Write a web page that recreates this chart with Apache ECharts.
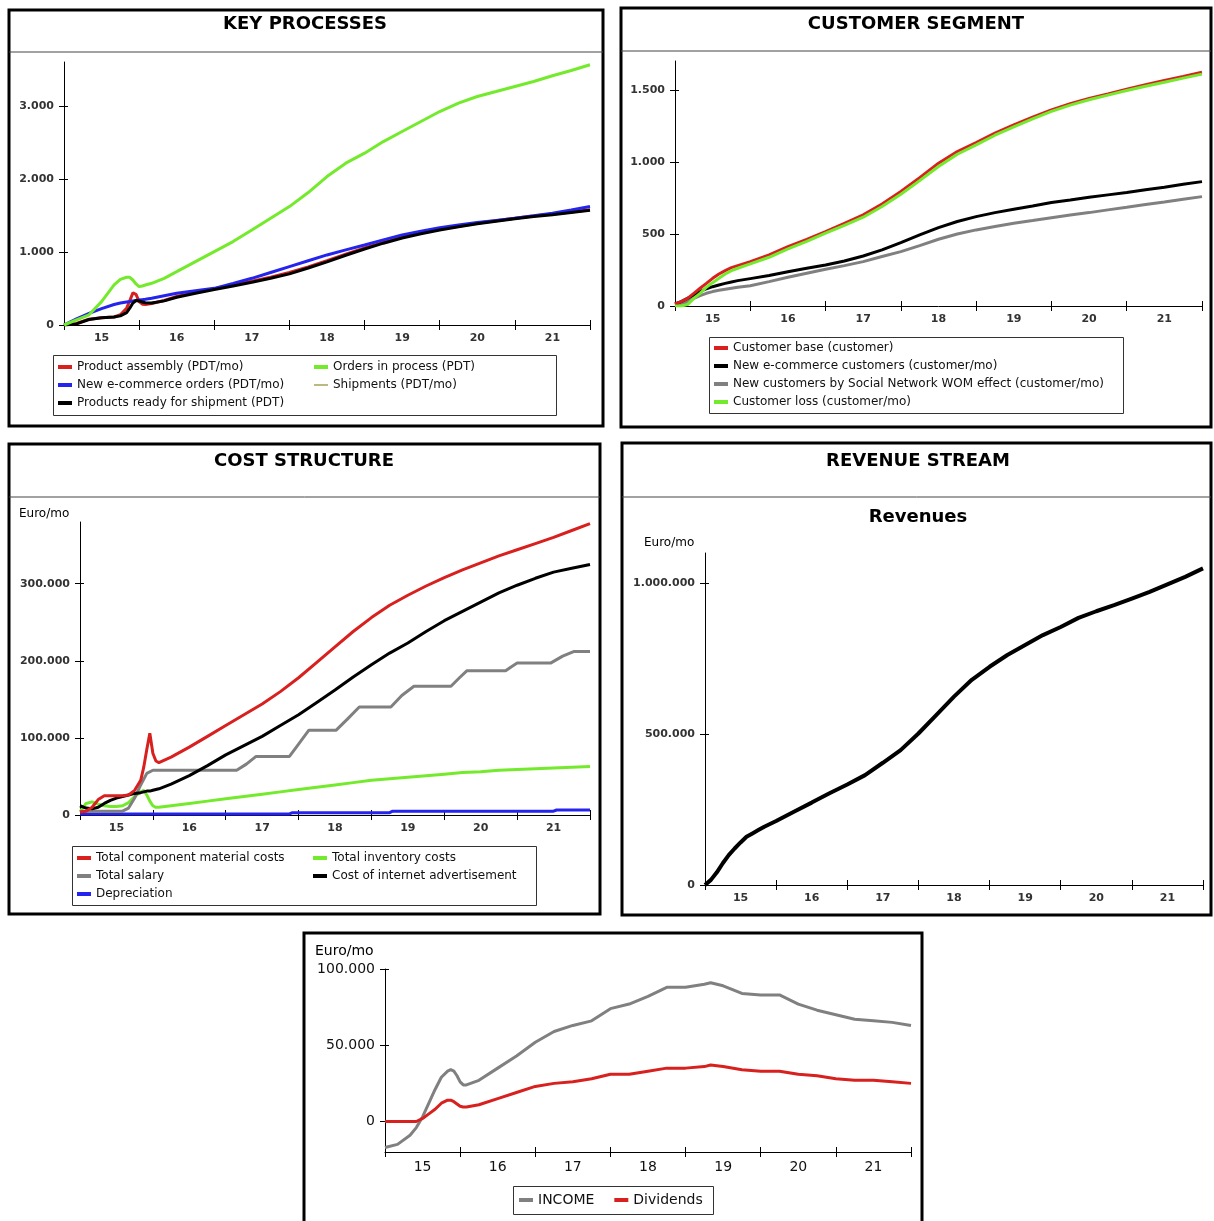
<!DOCTYPE html>
<html><head><meta charset="utf-8">
<script src="https://cdn.jsdelivr.net/npm/echarts@6/dist/echarts.min.js"></script>
<style>html,body{margin:0;padding:0;background:#fff}#c{width:1214px;height:1221px}</style>
</head><body><div id="c"></div>
<script>
// ---------- DATA ----------
const years = ['15','16','17','18','19','20','21'];

// Key processes (months from start of axis)
const kpMonths = [0,2,4,6,8,9,10,10.5,11,11.5,12,12.5,13,14,16,18,21,24,27,30,33,36,39,42,45,48,51,54,57,60,63,66,69,72,75,78,81,84];
const kpAssembly = [0,20,80,100,110,140,230,330,440,420,320,285,280,295,335,390,445,495,548,600,655,718,795,880,970,1055,1130,1200,1258,1310,1352,1392,1428,1462,1492,1518,1548,1578];
const kpNewOrders = [0,85,160,225,280,300,315,322,330,336,342,347,352,365,400,434,468,502,570,639,719,799,879,959,1028,1096,1165,1233,1283,1333,1368,1402,1432,1461,1495,1530,1575,1621];
const kpReady = [0,15,75,100,110,125,170,230,300,335,330,315,305,300,330,380,435,485,535,585,640,700,780,865,955,1040,1120,1190,1250,1300,1345,1385,1420,1455,1485,1510,1540,1570];
const kpOrdersInProcess = [0,70,140,320,548,625,653,653,616,562,525,534,548,571,639,730,868,1005,1142,1301,1461,1621,1813,2032,2215,2352,2511,2648,2785,2922,3037,3128,3196,3265,3333,3411,3484,3562];
const kpShipments = [0,15,75,100,110,125,170,225,295,330,328,314,304,300,330,380,434,484,534,584,639,699,779,864,954,1039,1119,1189,1249,1299,1344,1384,1419,1454,1484,1509,1539,1569];

// Customer segment
const csMonths = [0,1,2,3,4,5,6,7,8,9,10,12,15,18,21,24,27,30,33,36,39,42,45,48,51,54,57,60,63,66,69,72,75,78,81,84];
const csBase = [14,30,53,88,123,157,192,222,245,266,280,308,354,412,463,516,574,632,708,794,891,991,1072,1134,1199,1257,1310,1361,1403,1440,1472,1505,1535,1565,1593,1623];
const csNewEcom = [14,30,53,76,100,120,134,146,157,167,176,190,211,238,262,285,312,347,389,440,493,544,586,620,648,671,694,718,736,755,771,787,806,824,845,863];
const csWom = [4,10,30,53,72,88,100,109,116,123,130,141,169,199,227,255,280,308,343,377,419,463,500,528,551,574,593,613,632,648,667,685,704,722,741,759];
const csLoss = [0,0,10,53,88,130,162,192,222,245,262,292,338,396,449,505,560,616,690,775,870,968,1053,1118,1185,1243,1299,1350,1394,1431,1463,1495,1525,1553,1581,1609];

// Cost structure (thousand Euro/mo)
const costMonths = [0,1,2,3,4,5,6,7,8,9,10,10.5,11,11.5,12,12.5,13,15,18,21,24,27,30,33,36,39,42,45,48,51,54,57,60,63,66,69,72,75,78,81,84];
const costMaterialK = [4,5,10,20,25,25,25,25,26,32,45,62,85,106,80,70,68,75,88,102,116,130,144,160,178,198,218,238,256,272,285,297,308,318,327,336,344,352,360,369,378];
const costInventoryK = [4,15,17,14,12,11,11,12,16,24,30,32,26,18,12,10,10,12,15,18,21,24,27,30,33,36,39,42,45,47,49,51,53,55,56,58,59,60,61,62,63];
const costAdvertK = [12,9,8,10,15,19,22,24,26,28,29,30,31,31,32,33,34,40,51,64,78,90,102,116,130,146,162,179,195,210,223,238,252,264,276,288,298,307,315,320,325];
const salaryMonths = [0,7,8,9,10,11,12,25.8,27.4,29,34.5,36,37.7,42.2,44,46,51.2,53,55,61.1,62.5,63.7,70.1,71,72,77.5,79.5,81.3,84];
const salaryK = [5,5,9,22,39,54,58,58,66,76,76,92,110,110,124,140,140,155,167,167,178,187,187,192,197,197,206,212,212];
const deprMonths = [0,34.5,35,51,51.5,78,78.5,84];
const deprK = [1.3,1.3,3,3,5,5,6.5,6.5];

// Revenue stream (thousand Euro/mo)
const revMonths = [0,1,2,3,4,5,6,7,8,9,10,12,15,18,21,24,27,30,33,36,39,42,45,48,51,54,57,60,63,66,69,72,75,78,81,84];
const revenuesK = [0,17,42,72,99,121,141,160,171,182,193,212,243,273,304,333,364,405,447,502,563,624,680,723,762,795,828,855,885,907,927,949,971,996,1021,1049];

// Income / dividends (thousand Euro/mo)
const incMonths = [0,2,4,5,6,7,8,9,10,10.5,11,11.5,12,12.5,13,15,18,21,24,27,30,33,36,39,42,45,48,51,52,54,57,60,63,66,69,72,75,78,81,84];
const incomeK = [-17,-15,-9,-4,3,12,21,29,33,34,33,30,26,24,24,27,35,43,52,59,63,66,74,77,82,88,88,90,91,89,84,83,83,77,73,70,67,66,65,63];
const dividendsK = [0,0,0,0,2,5,8,12,14,14,13,11.5,10,9.5,9.5,11,15,19,23,25,26,28,31,31,33,35,35,36,37,36,34,33,33,31,30,28,27,27,26,25];

// ---------- CHART ----------
const FONT = '"DejaVu Sans", Verdana, sans-serif';
const RED = '#d8201e', GREEN = '#74ea2c', BLUE = '#2424ee', BLACK = '#000', GRAY = '#808080', OLIVE = '#8a8a30';
const fmt = v => String(Math.round(v)).replace(/\B(?=(\d{3})+(?!\d))/g, '.');

const grids = [
  {left:64, top:62, width:526, height:263},
  {left:675, top:61, width:527, height:245},
  {left:80, top:522, width:510, height:293},
  {left:705, top:553, width:498, height:332},
  {left:385, top:969, width:526, height:183}
];
const yConf = [
  {min:0, max:3600, ticks:[0,1000,2000,3000], fs:11, fw:'bold', col:'#333'},
  {min:0, max:1700, ticks:[0,500,1000,1500], fs:11, fw:'bold', col:'#333'},
  {min:0, max:380000, ticks:[0,100000,200000,300000], fs:11, fw:'bold', col:'#333'},
  {min:0, max:1100000, ticks:[0,500000,1000000], fs:11, fw:'bold', col:'#333'},
  {min:-20000, max:100000, ticks:[0,50000,100000], fs:14, fw:'normal', col:'#111'}
];

const xAxis = [], yAxis = [];
grids.forEach((g, i) => {
  const yc = yConf[i];
  const lab = {color:yc.col, fontSize:yc.fs, fontWeight:yc.fw, fontFamily:FONT};
  xAxis.push({type:'category', gridIndex:i, data:years, position:'bottom', boundaryGap:true,
    axisLine:{onZero:false, lineStyle:{color:'#000', width:1}},
    axisTick:{show:true, inside:false, length:5, lineStyle:{color:'#000'}},
    axisLabel:Object.assign({margin:8}, lab),
    splitLine:{show:false}});
  xAxis.push({type:'category', gridIndex:i, data:years, position:'bottom', boundaryGap:true,
    axisLine:{show:false, onZero:false},
    axisTick:{show:true, inside:true, length:5, lineStyle:{color:'#000'}},
    axisLabel:{show:false}, splitLine:{show:false}});
  xAxis.push({type:'value', gridIndex:i, min:0, max:84, show:false});

  yAxis.push({type:'value', gridIndex:i, min:yc.min, max:yc.max, position:'left',
    axisLine:{show:true, onZero:false, lineStyle:{color:'#000', width:1}},
    axisTick:{show:true, inside:false, length:5, customValues:yc.ticks, lineStyle:{color:'#000'}},
    axisLabel:Object.assign({margin:10, customValues:yc.ticks, formatter:fmt}, lab),
    splitLine:{show:false}});
  yAxis.push({type:'value', gridIndex:i, min:yc.min, max:yc.max, position:'left',
    axisLine:{show:false, onZero:false},
    axisTick:{show:true, inside:true, length:4, customValues:yc.ticks, lineStyle:{color:'#000'}},
    axisLabel:{show:false}, splitLine:{show:false}});
});

function S(name, gi, xs, ys, color, width, scale) {
  scale = scale || 1;
  return {type:'line', name, xAxisIndex:gi*3+2, yAxisIndex:gi*2,
    data: xs.map((x, k) => [x, ys[k]*scale]),
    showSymbol:false, symbol:'none', smooth:false,
    lineStyle:{color, width}, itemStyle:{color}, silent:true, animation:false};
}

const series = [
  S('Shipments (PDT/mo)', 0, kpMonths, kpShipments, OLIVE, 1.2),
  S('Product assembly (PDT/mo)', 0, kpMonths, kpAssembly, RED, 3),
  S('New e-commerce orders (PDT/mo)', 0, kpMonths, kpNewOrders, BLUE, 3),
  S('Products ready for shipment (PDT)', 0, kpMonths, kpReady, BLACK, 3),
  S('Orders in process (PDT)', 0, kpMonths, kpOrdersInProcess, GREEN, 3),

  S('New customers by Social Network WOM effect (customer/mo)', 1, csMonths, csWom, GRAY, 3),
  S('New e-commerce customers (customer/mo)', 1, csMonths, csNewEcom, BLACK, 3),
  S('Customer base (customer)', 1, csMonths, csBase, RED, 3),
  S('Customer loss (customer/mo)', 1, csMonths, csLoss, GREEN, 3),

  S('Depreciation', 2, deprMonths, deprK, BLUE, 3, 1000),
  S('Total inventory costs', 2, costMonths, costInventoryK, GREEN, 3, 1000),
  S('Total salary', 2, salaryMonths, salaryK, GRAY, 3, 1000),
  S('Cost of internet advertisement', 2, costMonths, costAdvertK, BLACK, 3, 1000),
  S('Total component material costs', 2, costMonths, costMaterialK, RED, 3, 1000),

  S('Revenues', 3, revMonths, revenuesK, BLACK, 4, 1000),

  S('INCOME', 4, incMonths, incomeK, GRAY, 3, 1000),
  S('Dividends', 4, incMonths, dividendsK, RED, 3, 1000)
];

function L(left, top, names, opt) {
  opt = opt || {};
  return Object.assign({
    left, top, orient:'vertical', padding:0, itemGap:0, itemWidth:14, itemHeight:4,
    icon:'rect', selectedMode:false,
    textStyle:{fontSize:12, fontFamily:FONT, color:'#111', lineHeight:18},
    data:names
  }, opt);
}
const legend = [
  L(58, 358, ['Product assembly (PDT/mo)', 'New e-commerce orders (PDT/mo)', 'Products ready for shipment (PDT)']),
  L(314, 358, ['Orders in process (PDT)', {name:'Shipments (PDT/mo)', icon:'path://M0,0h14v1.2h-14z'}]),
  L(714, 339, ['Customer base (customer)', 'New e-commerce customers (customer/mo)', 'New customers by Social Network WOM effect (customer/mo)', 'Customer loss (customer/mo)']),
  L(77, 849, ['Total component material costs', 'Total salary', 'Depreciation']),
  L(313, 849, ['Total inventory costs', 'Cost of internet advertisement']),
  L(519, 1191, ['INCOME', 'Dividends'], {orient:'horizontal', itemGap:20, textStyle:{fontSize:14, fontFamily:FONT, color:'#111', lineHeight:18}})
];

const box = (x, y, w, h, lw, col) => ({type:'rect', shape:{x, y, width:w, height:h}, style:{fill:'none', stroke:col || '#000', lineWidth:lw}, z:10});
const hline = (x1, x2, y) => ({type:'line', shape:{x1, y1:y, x2, y2:y}, style:{stroke:'#444', lineWidth:1}, z:10});
const txt = (s, x, y, font, align) => ({type:'text', z:10, style:{text:s, x, y, font, fill:'#000', textAlign:align || 'center', textVerticalAlign:'middle', align:align || 'center', verticalAlign:'middle'}});
const TITLE = 'bold 18px ' + FONT;

const graphic = [
  box(9, 10, 594, 416, 3), hline(9, 603, 52), txt('KEY PROCESSES', 305, 24, TITLE),
  box(621, 8, 590, 419, 3), hline(621, 1211, 51), txt('CUSTOMER SEGMENT', 916, 24, TITLE),
  box(9, 444, 591, 470, 3), hline(9, 600, 497), txt('COST STRUCTURE', 304, 461, TITLE),
  box(622, 443, 589, 472, 3), hline(622, 1211, 497), txt('REVENUE STREAM', 918, 461, TITLE),
  txt('Revenues', 918, 517, TITLE), txt('Euro/mo', 644, 543, '12px ' + FONT, 'left'),
  txt('Euro/mo', 19, 514, '12px ' + FONT, 'left'),
  box(304, 933, 618, 300, 3),
  txt('Euro/mo', 315, 951, '14px ' + FONT, 'left'),
  box(53.5, 355.5, 503, 60, 1, '#333'),
  box(709.5, 337.5, 414, 76, 1, '#333'),
  box(72.5, 846.5, 464, 59, 1, '#333'),
  box(513.5, 1186.5, 200, 28, 1, '#333')
];

const chart = echarts.init(document.getElementById('c'), null, {renderer:'canvas'});
chart.setOption({animation:false, backgroundColor:'#fff', grid:grids, xAxis, yAxis, series, legend, graphic});
</script></body></html>
